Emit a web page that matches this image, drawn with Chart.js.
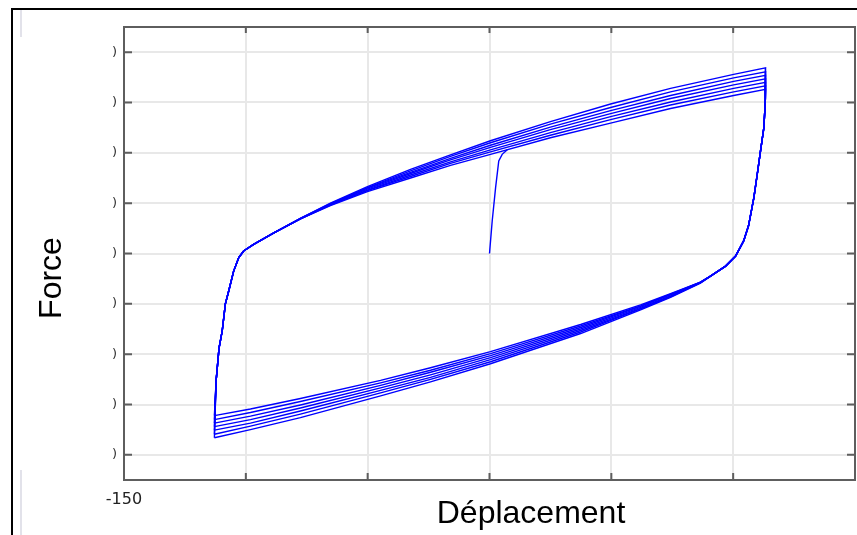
<!DOCTYPE html>
<html>
<head>
<meta charset="utf-8">
<script src="https://cdn.jsdelivr.net/npm/chart.js@4/dist/chart.umd.min.js"></script>
<style>
  html, body { margin: 0; padding: 0; background: #ffffff; }
  #plot { display: block; }
</style>
</head>
<body>
<canvas id="plot" width="857" height="535"></canvas>
<script>
// Axis ticks
const dispTicks = [-150, -100, -50, 0, 50, 100, 150];
const forceTicks = [-4, -3, -2, -1, 0, 1, 2, 3, 4];
const xTitle = 'Déplacement';
const yTitle = 'Force';

// First loading from rest
const initDisp  = [0, 1.1, 2.5, 3.8, 5.2, 7.3];
const initForce = [0, 0.64, 1.31, 1.84, 1.97, 2.06];

// Reloading from the negative peak (shared by all cycles)
const riseDisp  = [-112.2, -111.0, -109.7, -108.4, -107.0, -105.0, -102.9, -100.9, -96.8, -88.5];
const riseForce = [-2.53, -1.88, -1.54, -1.00, -0.74, -0.35, -0.08, 0.05, 0.18, 0.41];

// Upper (loading) branch, one force row per cycle
const upperDisp = [-77.6, -65.3, -50.1, -32.4, -16.0, 0.4, 25.0, 49.7, 74.3, 100.2, 113.3];
const upperCycle1 = [0.69, 0.95, 1.23, 1.50, 1.75, 1.97, 2.30, 2.59, 2.88, 3.14, 3.26];
const upperCycle2 = [0.69, 0.96, 1.25, 1.53, 1.79, 2.02, 2.35, 2.66, 2.95, 3.21, 3.33];
const upperCycle3 = [0.69, 0.97, 1.26, 1.56, 1.82, 2.06, 2.40, 2.72, 3.01, 3.28, 3.40];
const upperCycle4 = [0.69, 0.98, 1.28, 1.59, 1.86, 2.11, 2.46, 2.78, 3.08, 3.35, 3.47];
const upperCycle5 = [0.70, 0.98, 1.30, 1.61, 1.89, 2.15, 2.51, 2.84, 3.14, 3.42, 3.54];
const upperCycle6 = [0.70, 0.99, 1.31, 1.64, 1.93, 2.20, 2.57, 2.90, 3.21, 3.49, 3.61];
const upperCycle7 = [0.70, 1.00, 1.33, 1.67, 1.96, 2.24, 2.62, 2.97, 3.28, 3.56, 3.69];

// Unloading from the positive peak (shared by all cycles)
const dropDisp  = [113.2, 112.6, 111.2, 109.9, 108.5, 106.3, 104.3, 101.0, 96.9, 90.7];
const dropForce = [3.03, 2.50, 2.03, 1.58, 1.11, 0.55, 0.25, -0.05, -0.25, -0.45];

// Lower (reverse loading) branch, one force row per cycle
const lowerDisp = [86.6, 74.3, 62.0, 37.4, 0.4, -24.2, -44.7, -77.6, -98.1, -112.9];
const lowerCycle1 = [-0.57, -0.80, -1.02, -1.41, -1.95, -2.27, -2.52, -2.88, -3.09, -3.22];
const lowerCycle2 = [-0.57, -0.81, -1.04, -1.44, -1.99, -2.32, -2.57, -2.94, -3.16, -3.30];
const lowerCycle3 = [-0.57, -0.82, -1.05, -1.47, -2.03, -2.36, -2.62, -3.01, -3.23, -3.37];
const lowerCycle4 = [-0.58, -0.84, -1.07, -1.50, -2.07, -2.41, -2.67, -3.07, -3.30, -3.44];
const lowerCycle5 = [-0.58, -0.85, -1.09, -1.53, -2.11, -2.46, -2.72, -3.13, -3.37, -3.51];
const lowerCycle6 = [-0.58, -0.86, -1.10, -1.56, -2.15, -2.50, -2.77, -3.19, -3.43, -3.59];
const lowerCycle7 = [-0.59, -0.87, -1.12, -1.59, -2.19, -2.55, -2.83, -3.26, -3.50, -3.66];

const upperCycles = [upperCycle1, upperCycle2, upperCycle3, upperCycle4, upperCycle5, upperCycle6, upperCycle7];
const lowerCycles = [lowerCycle1, lowerCycle2, lowerCycle3, lowerCycle4, lowerCycle5, lowerCycle6, lowerCycle7];

const toPoints = (xs, ys) => xs.map((x, i) => ({ x, y: ys[i] }));

// One closed hysteresis loop per cycle: negative peak -> reload -> positive peak -> unload -> negative peak
function loopPoints(k) {
  const up = upperCycles[k];
  const low = lowerCycles[k];
  return [
    { x: lowerDisp[lowerDisp.length - 1], y: low[low.length - 1] },
    ...toPoints(riseDisp, riseForce),
    ...toPoints(upperDisp, up),
    ...toPoints(dropDisp, dropForce),
    ...toPoints(lowerDisp, low)
  ];
}

const lineStyle = {
  showLine: true,
  borderColor: '#0000ff',
  borderWidth: 1.4,
  pointRadius: 0,
  tension: 0,
  fill: false
};

const datasets = [
  { ...lineStyle, data: toPoints(initDisp, initForce) },
  ...upperCycles.map((_, k) => ({ ...lineStyle, data: loopPoints(k) }))
];

// Outer frame, boxed axes with inward ticks, and axis titles
const decor = {
  id: 'decor',
  beforeDraw(chart) {
    const ctx = chart.ctx;
    ctx.save();
    ctx.fillStyle = '#ffffff';
    ctx.fillRect(0, 0, chart.width, chart.height);
    ctx.fillStyle = '#e2e2ea';
    ctx.fillRect(20, 10, 2, 27);
    ctx.fillRect(20, 470, 2, 65);
    ctx.fillStyle = '#000000';
    ctx.fillRect(11, 8, chart.width - 11, 2);
    ctx.fillRect(11, 8, 2, chart.height - 8);
    ctx.restore();
  },
  afterDraw(chart) {
    const { ctx, chartArea: a, scales } = chart;
    const xs = scales.x, ys = scales.y;
    ctx.save();
    ctx.strokeStyle = '#5e5e5e';
    ctx.lineWidth = 2;
    ctx.strokeRect(a.left, a.top, a.right - a.left, a.bottom - a.top);
    ctx.beginPath();
    xs.ticks.forEach(t => {
      const p = xs.getPixelForValue(t.value);
      ctx.moveTo(p, a.top); ctx.lineTo(p, a.top + 6);
      ctx.moveTo(p, a.bottom); ctx.lineTo(p, a.bottom - 7);
    });
    ys.ticks.forEach(t => {
      const p = ys.getPixelForValue(t.value);
      ctx.moveTo(a.left, p); ctx.lineTo(a.left + 8, p);
      ctx.moveTo(a.right, p); ctx.lineTo(a.right - 8, p);
    });
    ctx.stroke();

    ctx.fillStyle = '#000000';
    ctx.font = '32px "Liberation Sans", Arial, sans-serif';
    ctx.textAlign = 'center';
    ctx.textBaseline = 'alphabetic';
    ctx.fillText(xTitle, 531, 523);
    ctx.translate(61, 278);
    ctx.rotate(-Math.PI / 2);
    ctx.fillText(yTitle, 0, 0);
    ctx.restore();
  }
};

new Chart(document.getElementById('plot'), {
  type: 'scatter',
  data: { datasets },
  plugins: [decor],
  options: {
    responsive: false,
    animation: false,
    devicePixelRatio: 1,
    layout: { padding: { left: 0, right: 2, top: 27, bottom: 0 } },
    plugins: {
      legend: { display: false },
      tooltip: { enabled: false },
      title: { display: false }
    },
    scales: {
      x: {
        type: 'linear',
        position: 'bottom',
        min: -150,
        max: 150,
        afterBuildTicks: s => { s.ticks = dispTicks.map(v => ({ value: v })); },
        afterFit: s => { s.height = 55; s.paddingLeft = 0; s.paddingRight = 0; },
        grid: { color: '#e8e8e8', lineWidth: 2, drawTicks: false },
        border: { display: false },
        ticks: {
          autoSkip: false,
          maxRotation: 0,
          padding: 10,
          color: '#222222',
          font: { family: '"DejaVu Sans", sans-serif', size: 16 },
          callback: v => (v === -150 ? '-150' : '')
        },
        title: { display: false }
      },
      y: {
        type: 'linear',
        min: -4.5,
        max: 4.5,
        afterBuildTicks: s => { s.ticks = forceTicks.map(v => ({ value: v })); },
        afterFit: s => { s.width = 124; s.paddingTop = 0; s.paddingBottom = 0; },
        grid: { color: '#e8e8e8', lineWidth: 2, drawTicks: false },
        border: { display: false },
        ticks: {
          autoSkip: false,
          padding: 7,
          color: '#333333',
          font: { family: '"DejaVu Sans", sans-serif', size: 13 },
          callback: () => ')'
        },
        title: { display: false }
      }
    }
  }
});
</script>
</body>
</html>
